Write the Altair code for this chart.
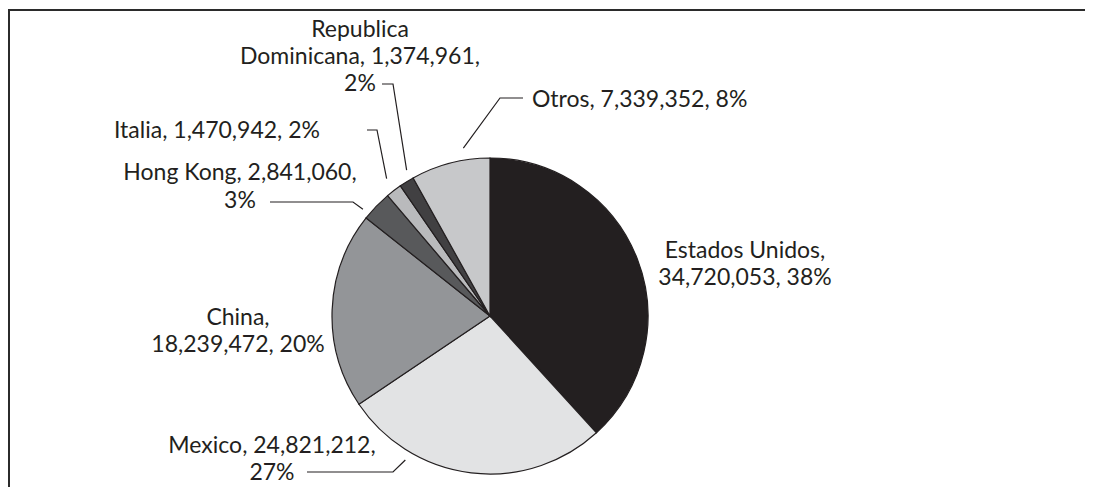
import math
import altair as alt
import pandas as pd

# ---- data ----
countries = ["Estados Unidos", "Mexico", "China", "Hong Kong", "Italia",
             "Republica Dominicana", "Otros"]
values = [34720053, 24821212, 18239472, 2841060, 1470942, 1374961, 7339352]
percents = [38, 27, 20, 3, 2, 2, 8]
colors = ["#231f20", "#e2e3e4", "#939598", "#58595b", "#b9babc", "#414042", "#c7c8ca"]

# how each label is broken into lines
label_templates = {
    "Estados Unidos": ["{n},", "{v}, {p}%"],
    "Mexico": ["{n}, {v},", "{p}%"],
    "China": ["{n},", "{v}, {p}%"],
    "Hong Kong": ["{n}, {v},", "{p}%"],
    "Italia": ["{n}, {v}, {p}%"],
    "Republica Dominicana": ["Republica", "Dominicana, {v},", "{p}%"],
    "Otros": ["{n}, {v}, {p}%"],
}

# ---- layout (pixels in page coordinates) ----
W, H = 1077, 479
OX, OY = 8, 8
CX, CY, R = 490, 316, 158
FONT = "Lato"
FS = 23

# label anchor: (x, first baseline y, align, line height)
label_pos = {
    "Estados Unidos": (745, 258, "center", 27),
    "Mexico": (272, 453, "center", 27),
    "China": (238, 325, "center", 27),
    "Hong Kong": (240, 180, "center", 28),
    "Italia": (217, 138, "center", 27),
    "Republica Dominicana": (360, 37, "center", 27),
    "Otros": (532, 107, "left", 27),
}
# leader: (position inside slice 0..1, offset outside radius, bend & end points)
leaders = {
    "Otros": (0.69, 12, [(500, 98), (523, 98)]),
    "Republica Dominicana": (0.88, 10, [(393, 84), (382, 84)]),
    "Italia": (0.59, 14, [(377, 130), (367, 130)]),
    "Hong Kong": (0.15, 8, [(353, 202), (270, 202)]),
    "Mexico": (0.74, 9, [(393, 472), (307, 472)]),
}

total = sum(values)
cum = [0]
for v in values:
    cum.append(cum[-1] + v)


def polar(frac, rad):
    a = 2 * math.pi * frac
    return CX + rad * math.sin(a), CY - rad * math.cos(a)


pie_df = pd.DataFrame({"country": countries, "value": values, "idx": list(range(len(values)))})

rows = []
for i, c in enumerate(countries):
    x0, y0, al, lh = label_pos[c]
    for k, t in enumerate(label_templates[c]):
        rows.append({"x": x0, "y": y0 + k * lh, "align": al,
                     "text": t.format(n=c, v=f"{values[i]:,}", p=percents[i])})
text_df = pd.DataFrame(rows)

lrows = []
for c, (f, off, pts) in leaders.items():
    i = countries.index(c)
    sx, sy = polar((cum[i] + f * values[i]) / total, R + off)
    allpts = [(sx, sy)] + pts
    for k, (px, py) in enumerate(allpts):
        lrows.append({"key": c, "o": k, "x": px, "y": py})
lead_df = pd.DataFrame(lrows)

xs = alt.Scale(domain=[OX, OX + W], range=[0, W])
ys = alt.Scale(domain=[OY, OY + H], range=[0, H])

pie = alt.Chart(pie_df).mark_arc(radius=R, stroke="#231f20", strokeWidth=1.2).encode(
    theta=alt.Theta("value:Q", stack=True),
    order=alt.Order("idx:Q"),
    color=alt.Color("country:N", scale=alt.Scale(domain=countries, range=colors), legend=None),
    x=alt.value(CX - OX),
    y=alt.value(CY - OY),
)

lines = alt.Chart(lead_df).mark_line(color="#231f20", strokeWidth=1.2).encode(
    x=alt.X("x:Q", scale=xs, axis=None),
    y=alt.Y("y:Q", scale=ys, axis=None),
    detail="key:N",
    order="o:Q",
)

txt_c = alt.Chart(text_df[text_df["align"] == "center"]).mark_text(
    align="center", baseline="alphabetic", font=FONT, fontSize=FS, color="#231f20"
).encode(x=alt.X("x:Q", scale=xs, axis=None), y=alt.Y("y:Q", scale=ys, axis=None), text="text:N")

txt_l = alt.Chart(text_df[text_df["align"] == "left"]).mark_text(
    align="left", baseline="alphabetic", font=FONT, fontSize=FS, color="#231f20"
).encode(x=alt.X("x:Q", scale=xs, axis=None), y=alt.Y("y:Q", scale=ys, axis=None), text="text:N")

frame_df = pd.DataFrame({"a": [0]})
top = alt.Chart(frame_df).mark_rule(color="#2b2b2b", strokeWidth=2).encode(
    x=alt.value(0), x2=alt.value(W), y=alt.value(2))
left = alt.Chart(frame_df).mark_rule(color="#2b2b2b", strokeWidth=2).encode(
    x=alt.value(1), y=alt.value(2), y2=alt.value(H))

chart = alt.layer(pie, lines, txt_c, txt_l, top, left).resolve_scale(
    x="shared", y="shared"
).properties(
    width=W, height=H, padding=0, autosize=alt.AutoSizeParams(type="none")
).configure_view(stroke=None)

chart.save("out.html", embed_options={"renderer": "svg", "actions": False})
